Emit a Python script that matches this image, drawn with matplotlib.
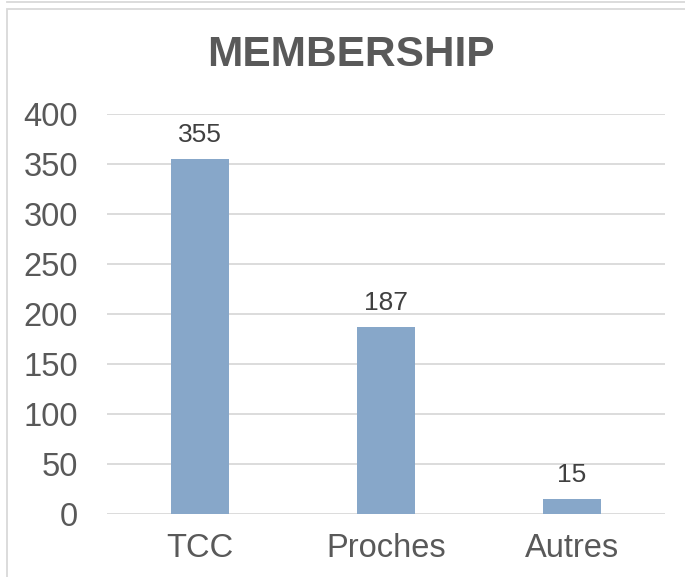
import matplotlib.pyplot as plt
from matplotlib.patches import Rectangle

categories = ["TCC", "Proches", "Autres"]
values = [355, 187, 15]
yticks = [0, 50, 100, 150, 200, 250, 300, 350, 400]

plt.rcParams['font.family'] = ['Liberation Sans', 'DejaVu Sans']

fig = plt.figure(figsize=(6.85, 5.77), dpi=100)
W, H = 685, 577
ax = fig.add_axes([107/W, 1-514/H, 558/W, 400/H])

x = range(len(categories))
bars = ax.bar(x, values, width=0.31, color="#87A7C9", zorder=3)
for b, v in zip(bars, values):
    ax.text(b.get_x()+b.get_width()/2, v+12, str(v), ha="center", va="bottom",
            fontsize=19, color="#404040")

ax.set_xlim(-0.5, 2.5)
ax.set_ylim(0, 400)
ax.set_yticks(yticks)
ax.set_xticks(list(x))
ax.set_xticklabels(categories)
ax.yaxis.grid(True, color="#D9D9D9", linewidth=1.3, zorder=0)
for s in ax.spines.values():
    s.set_visible(False)
ax.tick_params(length=0, labelsize=23.5, labelcolor="#595959")
ax.tick_params(axis="y", pad=21)
ax.tick_params(axis="x", pad=14)

fig.text(351/W, 1-55/H, "MEMBERSHIP", ha="center", va="center", fontsize=30.5,
         fontweight="bold", color="#595959")

# chart border and the box above it
fig.patches.append(Rectangle((7/W, -0.1), 1.0, 1-9/H+0.1, transform=fig.transFigure,
                             fill=False, edgecolor="#D9D9D9", linewidth=1.3))
fig.lines.append(plt.Line2D([7/W, 1], [1-2/H, 1-2/H], transform=fig.transFigure,
                            color="#D9D9D9", linewidth=1.3))

fig.savefig("out.png", dpi=100)
